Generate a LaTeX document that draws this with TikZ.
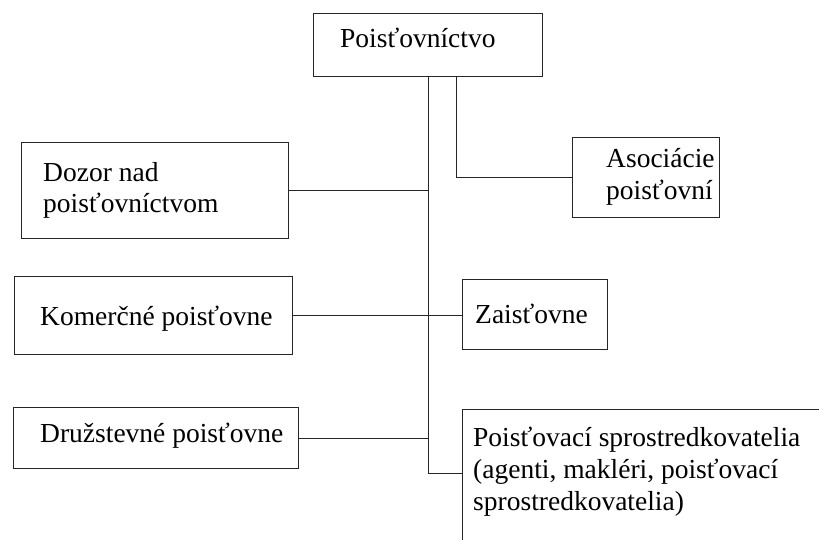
\documentclass[tikz,border=0pt]{standalone}
\usepackage{fontspec}
\setmainfont{Liberation Serif}
\usetikzlibrary{calc}
\begin{document}
\begin{tikzpicture}[x=1pt,y=-1pt,
  bx/.style={draw=black!85, line width=1.3pt, rectangle, inner sep=0pt, anchor=north west},
  txt/.style={anchor=base west, inner sep=0pt, font=\fontsize{27.5}{31.5}\selectfont},
  ln/.style={draw=black!85, line width=1.3pt}]
\useasboundingbox[fill=white] (0,0) rectangle (819,540);
% boxes
\node[bx, minimum width=229pt, minimum height=63pt] (top) at (313,13) {};
\node[bx, minimum width=147pt, minimum height=80pt] (aso) at (572,137) {};
\node[bx, minimum width=267pt, minimum height=96pt] (doz) at (21,142) {};
\node[bx, minimum width=278pt, minimum height=78pt] (kom) at (14,276) {};
\node[bx, minimum width=145pt, minimum height=70pt] (zai) at (462,279) {};
\node[bx, minimum width=285pt, minimum height=61pt] (dru) at (13,407) {};
\node[bx, minimum width=400pt, minimum height=200pt] (rb) at (462,409) {};
% texts
\node[txt] (ttop) at (340,48) {Poisťovníctvo};
\node[txt] (taso1) at (606,168) {Asociácie};
\node[txt] (taso2) at (606,200) {poisťovní};
\node[txt] (tdoz1) at (43,182) {Dozor nad};
\node[txt] (tdoz2) at (43,213) {poisťovníctvom};
\node[txt] (tkom) at (40,325) {Komerčné poisťovne};
\node[txt] (tzai) at (475,323) {Zaisťovne};
\node[txt] (tdru) at (40,442) {Družstevné poisťovne};
\node[txt] (trb1) at (473,446) {Poisťovací sprostredkovatelia};
\node[txt] (trb2) at (473,478) {(agenti, makléri, poisťovací};
\node[txt] (trb3) at (473,510) {sprostredkovatelia)};
% connectors
\path (top.south) ++(0,396) coordinate (v1b);
\coordinate (v2t) at ($(top.south)+(28,0)$);
\draw[ln] (top.south) -- (v1b) -- (v1b -| rb.west);
\draw[ln] (doz.east) -- (doz.east -| top.south);
\draw[ln] (kom.east) -- (kom.east -| zai.west);
\draw[ln] (dru.east) -- (dru.east -| top.south);
\draw[ln] (v2t) |- (aso.west);
\end{tikzpicture}
\end{document}
